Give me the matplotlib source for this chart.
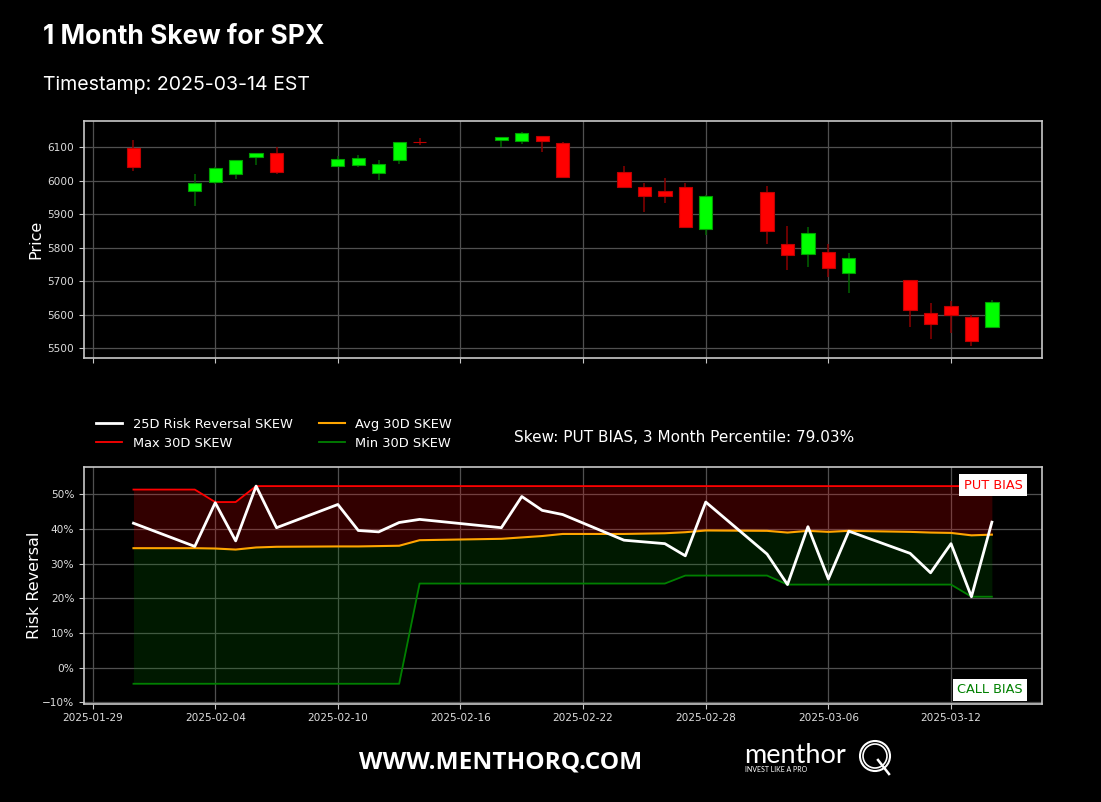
import pandas as pd
import matplotlib.pyplot as plt
import matplotlib.dates as mdates
from matplotlib.ticker import PercentFormatter
from matplotlib.patches import Rectangle, Ellipse
from matplotlib.lines import Line2D

# Trading days shown on the chart
dates = ['2025-01-31', '2025-02-03', '2025-02-04', '2025-02-05', '2025-02-06', '2025-02-07',
         '2025-02-10', '2025-02-11', '2025-02-12', '2025-02-13', '2025-02-14',
         '2025-02-18', '2025-02-19', '2025-02-20', '2025-02-21',
         '2025-02-24', '2025-02-25', '2025-02-26', '2025-02-27', '2025-02-28',
         '2025-03-03', '2025-03-04', '2025-03-05', '2025-03-06', '2025-03-07',
         '2025-03-10', '2025-03-11', '2025-03-12', '2025-03-13', '2025-03-14']

# SPX daily candles
opens = [6097, 5970, 5998, 6020, 6072, 6083, 6046, 6049, 6025, 6061, 6116, 6122, 6118, 6135, 6114,
         6027, 5983, 5971, 5982, 5857, 5968, 5812, 5781, 5786, 5726, 5705, 5604, 5625, 5594, 5564]
highs = [6121, 6022, 6042, 6063, 6084, 6101, 6073, 6076, 6063, 6117, 6127, 6130, 6147, 6135, 6115,
         6044, 5993, 6010, 5994, 5959, 5986, 5865, 5861, 5812, 5783, 5705, 5636, 5642, 5598, 5645]
lows = [6031, 5924, 5991, 6007, 6047, 6020, 6045, 6042, 6003, 6052, 6108, 6100, 6111, 6085, 6009,
        5978, 5908, 5933, 5859, 5838, 5811, 5733, 5742, 5712, 5666, 5564, 5528, 5546, 5505, 5564]
closes = [6041, 5995, 6038, 6061, 6084, 6026, 6066, 6069, 6052, 6115, 6115, 6130, 6144, 6118, 6013,
          5983, 5955, 5956, 5862, 5955, 5850, 5778, 5843, 5739, 5770, 5615, 5572, 5599, 5522, 5639]

# 25D risk reversal skew and its 30 day stats (percent)
rr_skew = [41.7, 35.0, 47.6, 36.6, 52.4, 40.4, 47.1, 39.6, 39.2, 41.9, 42.8, 40.4, 49.4, 45.4, 44.2,
           36.8, 36.3, 35.8, 32.3, 47.8, 32.8, 24.0, 40.7, 25.6, 39.4, 33.0, 27.4, 35.8, 20.5, 42.0]
max_skew = [51.4, 51.4, 47.8, 47.8, 52.4, 52.4, 52.4, 52.4, 52.4, 52.4, 52.4, 52.4, 52.4, 52.4, 52.4,
            52.4, 52.4, 52.4, 52.4, 52.4, 52.4, 52.4, 52.4, 52.4, 52.4, 52.4, 52.4, 52.4, 52.4, 52.4]
avg_skew = [34.5, 34.5, 34.4, 34.1, 34.7, 34.9, 35.0, 35.0, 35.1, 35.2, 36.8, 37.2, 37.6, 38.0, 38.6,
            38.6, 38.7, 38.8, 39.1, 39.6, 39.5, 39.0, 39.5, 39.2, 39.5, 39.2, 39.0, 38.9, 38.2, 38.4]
min_skew = [-4.6, -4.6, -4.6, -4.6, -4.6, -4.6, -4.6, -4.6, -4.6, -4.6, 24.3, 24.3, 24.3, 24.3, 24.3,
            24.3, 24.3, 24.3, 26.6, 26.6, 26.6, 24.0, 24.0, 24.0, 24.0, 24.0, 24.0, 24.0, 20.5, 20.5]

tick_dates = ['2025-01-29', '2025-02-04', '2025-02-10', '2025-02-16', '2025-02-22',
              '2025-02-28', '2025-03-06', '2025-03-12']

x = mdates.date2num(pd.to_datetime(dates))
xticks = mdates.date2num(pd.to_datetime(tick_dates))
start = mdates.date2num(pd.Timestamp('2025-01-29'))
xlim = (start - 0.42, start + 46.43)

fig = plt.figure(figsize=(11.01, 8.02), dpi=100, facecolor='black')
ax1 = fig.add_axes([0.0763, 0.5542, 0.8697, 0.2949])
ax2 = fig.add_axes([0.0763, 0.1228, 0.8697, 0.2953])

for ax in (ax1, ax2):
    ax.set_facecolor('black')
    for s in ax.spines.values():
        s.set_color('#c8c8c8')
        s.set_linewidth(1.2)
    ax.grid(True, color='#505050', linewidth=0.9)
    ax.set_axisbelow(True)
    ax.tick_params(colors='#c8c8c8', labelcolor='#dddddd', labelsize=7.6)
    ax.set_xticks(xticks)
    ax.set_xlim(xlim)

# Candlesticks
body_w = 0.65
for xi, o, h, l, c in zip(x, opens, highs, lows, closes):
    up = c >= o
    ax1.vlines(xi, l, h, color='#006400' if up else '#8b0000', linewidth=1.1, zorder=2)
    ax1.add_patch(Rectangle((xi - body_w / 2, min(o, c)), body_w, max(abs(c - o), 1.5),
                            facecolor='#00ff00' if up else '#ff0000',
                            edgecolor='#00a000' if up else '#c00000', linewidth=0.8, zorder=3))
ax1.set_ylim(5472, 6179)
ax1.set_yticks(range(5500, 6101, 100))
ax1.tick_params(axis='x', labelbottom=False)
ax1.set_ylabel('Price', color='white', fontsize=11.5)
ax1.yaxis.set_label_coords(-0.042, 0.5)

# Skew chart
ax2.fill_between(x, avg_skew, max_skew, color='red', alpha=0.2, linewidth=0, zorder=1)
ax2.fill_between(x, min_skew, avg_skew, color='green', alpha=0.2, linewidth=0, zorder=1)
ax2.plot(x, rr_skew, color='white', linewidth=2, zorder=5)
ax2.plot(x, max_skew, color='red', linewidth=1.3, zorder=4)
ax2.plot(x, avg_skew, color='orange', linewidth=1.5, zorder=4)
ax2.plot(x, min_skew, color='green', linewidth=1.3, zorder=4)
ax2.set_ylim(-10.3, 58)
ax2.set_yticks(range(-10, 51, 10))
ax2.yaxis.set_major_formatter(PercentFormatter(100, decimals=0))
ax2.xaxis.set_major_formatter(mdates.DateFormatter('%Y-%m-%d'))
ax2.set_ylabel('Risk Reversal', color='white', fontsize=11.5)
ax2.yaxis.set_label_coords(-0.044, 0.5)

ax2.text(0.98, 0.95, 'PUT BIAS', transform=ax2.transAxes, ha='right', va='top', color='red',
         fontsize=9.3, bbox=dict(facecolor='white', edgecolor='none', pad=3), zorder=6)
ax2.text(0.98, 0.03, 'CALL BIAS', transform=ax2.transAxes, ha='right', va='bottom', color='green',
         fontsize=9.3, bbox=dict(facecolor='white', edgecolor='none', pad=3), zorder=6)

handles = [Line2D([], [], color='white', linewidth=2),
           Line2D([], [], color='red', linewidth=1.3),
           Line2D([], [], color='orange', linewidth=1.5),
           Line2D([], [], color='green', linewidth=1.3)]
labels = ['25D Risk Reversal SKEW', 'Max 30D SKEW', 'Avg 30D SKEW', 'Min 30D SKEW']
fig.legend(handles, labels, ncol=2, loc='upper left', bbox_to_anchor=(0.0872, 0.4794),
           frameon=False, labelcolor='white', fontsize=9.4, borderpad=0, borderaxespad=0)

fig.text(684 / 1101, 1 - 438 / 802, 'Skew: PUT BIAS, 3 Month Percentile: 79.03%',
         color='white', fontsize=11, ha='center', va='center')

# Title block
fig.text(43 / 1101, 1 - 44.3 / 802, '1 Month Skew for SPX', color='white', fontsize=19,
         fontweight='bold', family='Inter', va='baseline')
fig.text(43 / 1101, 1 - 90 / 802, 'Timestamp: 2025-03-14 EST', color='white', fontsize=14.1,
         family='Inter', va='baseline')

# Footer
fig.text(500.5 / 1101, 1 - 763 / 802, 'WWW.MENTHORQ.COM', color='white', fontsize=17.6,
         fontweight='bold', family='Open Sans', ha='center', va='center')
fig.text(744 / 1101, 1 - 762.7 / 802, 'menthor', color='white', fontsize=19.5,
         family='Lato', va='baseline')
fig.text(745 / 1101, 1 - 772 / 802, 'INVEST LIKE A PRO', color='white', fontsize=5,
         family='Lato', va='baseline')
for r, lw in ((15, 1.5), (12, 1.2)):
    fig.add_artist(Ellipse((875 / 1101, 1 - 756 / 802), 2 * r / 1101, 2 * r / 802,
                           transform=fig.transFigure, fill=False, edgecolor='white', linewidth=lw))
fig.add_artist(Line2D([878 / 1101, 889 / 1101], [1 - 760 / 802, 1 - 774 / 802],
                      transform=fig.transFigure, color='white', linewidth=1.8))

plt.savefig('out.png', dpi=100, facecolor='black')
